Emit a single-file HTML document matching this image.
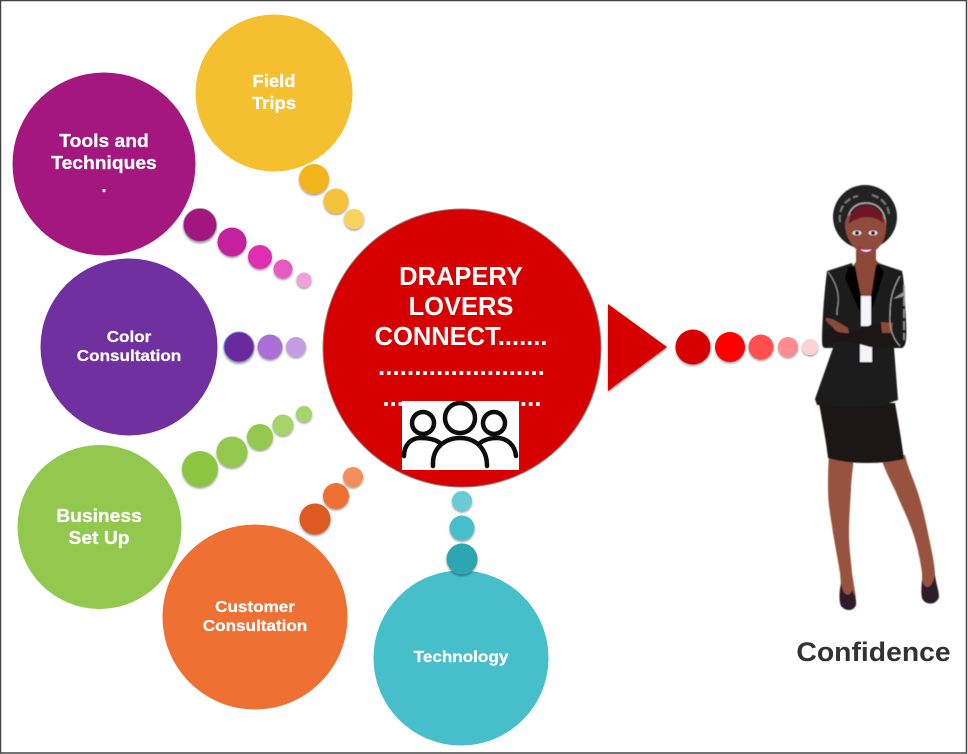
<!DOCTYPE html>
<html><head><meta charset="utf-8"><style>
html,body{margin:0;padding:0;background:#fff}
svg{display:block}
text{font-family:"Liberation Sans",sans-serif;font-weight:bold;fill:#fff;text-anchor:middle}
.a{stroke:#fff;stroke-width:.25px}
</style></head><body>
<svg width="968" height="754" viewBox="0 0 968 754" xmlns="http://www.w3.org/2000/svg">
<defs>
<filter id="s" x="-30%" y="-30%" width="160%" height="170%"><feDropShadow dx="0" dy="1.5" stdDeviation="1" flood-color="#000" flood-opacity=".4"/></filter>
<filter id="b" x="-5%" y="-5%" width="110%" height="110%"><feGaussianBlur stdDeviation=".5"/></filter>
<filter id="t" x="-5%" y="-10%" width="110%" height="120%"><feGaussianBlur stdDeviation=".3"/></filter>
</defs>
<rect width="968" height="754" fill="#fff"/>
<rect x=".5" y=".5" width="966" height="752.5" fill="none" stroke="#444" stroke-width="1.5"/>

<!-- outer bubbles -->
<circle cx="274" cy="93" r="78.5" fill="#f5c02f"/>
<circle cx="104" cy="164" r="91.5" fill="#a3177f"/>
<circle cx="129" cy="347" r="88.5" fill="#7030a0"/>
<circle cx="99.500" cy="527" r="82" fill="#92c84d"/>
<circle cx="255" cy="617" r="92.500" fill="#ee7032"/>
<circle cx="461" cy="658" r="87.500" fill="#47bfcb"/>

<!-- connectors -->
<g filter="url(#s)">
<circle cx="314" cy="179" r="15" fill="#f2b31c"/><circle cx="336" cy="201" r="12.500" fill="#f5c23b"/><circle cx="354" cy="219" r="10" fill="#f9d25f"/>
<circle cx="200" cy="225" r="16.500" fill="#a3177f" stroke="#8c8c8c" stroke-width=".8"/><circle cx="232" cy="242" r="14.500" fill="#c4209c"/><circle cx="260" cy="257" r="12" fill="#e02eb2"/><circle cx="283" cy="269" r="9.500" fill="#e45cc2"/><circle cx="304" cy="280" r="7.500" fill="#eda0dc"/>
<circle cx="239" cy="347" r="15" fill="#6a2c9e" stroke="#6c8ecf" stroke-width="1"/><circle cx="270" cy="347" r="12.500" fill="#ab70d8"/><circle cx="296" cy="347" r="10" fill="#c39ce2"/>
<circle cx="200" cy="469" r="18" fill="#8cc53f"/><circle cx="232" cy="452" r="15.500" fill="#92c84d"/><circle cx="260" cy="437" r="13" fill="#92c84d"/><circle cx="283" cy="425" r="10.500" fill="#a5d56a"/><circle cx="304" cy="414" r="8" fill="#a5d56a"/>
<circle cx="315" cy="519" r="15.500" fill="#dd5a24"/><circle cx="336" cy="496" r="13" fill="#ee7032"/><circle cx="353" cy="477" r="10" fill="#f28d5c"/>
<circle cx="462" cy="559" r="15.500" fill="#2ea5b2"/><circle cx="462" cy="528" r="12.500" fill="#47bfcb"/><circle cx="462" cy="501" r="10" fill="#68cbd6"/>
</g>

<!-- centre -->
<circle cx="462" cy="348" r="139" fill="#d60000" stroke="#9a7a7a" stroke-width="1"/>

<g filter="url(#t)">
<text font-size="25.500" x="461" y="285">DRAPERY</text>
<text font-size="25.500" x="461" y="315">LOVERS</text>
<text font-size="25.500" x="461" y="345">CONNECT.......</text>
<text font-size="25.500" x="461.500" y="375" style="letter-spacing:.18px">.......................</text>
<text font-size="25.500" x="462" y="406" style="letter-spacing:.15px">......................</text>
</g>

<rect x="402" y="401" width="117" height="69" fill="#fff"/>
<g fill="none" stroke="#0d0d0d" stroke-width="4.500" stroke-linecap="round" filter="url(#t)">
<circle cx="460" cy="418" r="15"/>
<circle cx="423" cy="423" r="11"/>
<circle cx="494" cy="423" r="11"/>
<path d="M433 466V463C433 448 445 438 460 438C475 438 487 448 487 466"/>
<path d="M404 456C404 445 411 438 420 438C428 438 435 439 440 443"/>
<path d="M480 443C485 439 491 438 497 438C507 438 515 445 516 456"/>
</g>

<!-- arrow -->
<polygon points="608,304 667,347 608,391" fill="#d60000" filter="url(#s)"/>
<g filter="url(#s)">
<circle cx="693" cy="347" r="17.500" fill="#d60000"/><circle cx="730" cy="347" r="15" fill="#ff0000"/><circle cx="761" cy="347" r="12.500" fill="#ff5050"/><circle cx="788" cy="347" r="10" fill="#ff8a8f"/><circle cx="810" cy="347" r="8" fill="#ffd2d2"/>
</g>

<!-- labels -->
<g filter="url(#t)">
<text class="a" font-size="17.500" transform="translate(274 87) scale(1.06 1)">Field</text>
<text class="a" font-size="17.500" transform="translate(274 109) scale(1.06 1)">Trips</text>
<text class="a" font-size="18" transform="translate(104 147) scale(1.07 1)">Tools and</text>
<text class="a" font-size="18" transform="translate(104 169) scale(1.07 1)">Techniques</text>
<text class="a" font-size="18" x="104" y="192">.</text>
<text class="a" font-size="16" transform="translate(129 342) scale(1.07 1)">Color</text>
<text class="a" font-size="16" transform="translate(129 361) scale(1.07 1)">Consultation</text>
<text class="a" font-size="18" transform="translate(99 522) scale(1.07 1)">Business</text>
<text class="a" font-size="18" transform="translate(99 544) scale(1.07 1)">Set Up</text>
<text class="a" font-size="16" transform="translate(255 612) scale(1.07 1)">Customer</text>
<text class="a" font-size="16" transform="translate(255 631) scale(1.07 1)">Consultation</text>
<text class="a" font-size="16" transform="translate(461 662) scale(1.07 1)">Technology</text>
<text font-size="27" transform="translate(873.500 661) scale(1.05 1)" style="fill:#333">Confidence</text>
</g>

<!-- woman -->
<g filter="url(#b)">
<!-- hair -->
<circle cx="865" cy="217" r="32" fill="#222"/>
<path d="M840 222C838 206 848 198 858 196" fill="none" stroke="#777" stroke-width="2" stroke-dasharray="7 3"/>
<path d="M872 195C882 198 888 205 889 214" fill="none" stroke="#777" stroke-width="2" stroke-dasharray="7 3"/>
<path d="M848 226C846 211 855 203 866 203C878 203 887 212 885 228" fill="none" stroke="#aaa" stroke-width="1.500"/>
<!-- legs -->
<path d="M829 455L854 455C853 470 851 480 851 490C850 505 849 520 849 533C849 548 851 560 852 573L856 598L842 598L840 573C838 560 835 545 833 533C831 518 828 505 828 490C828 478 828 468 829 455Z" fill="#975340"/>
<path d="M880 455L905 455C908 468 913 478 917 490C922 505 925 518 928 533C931 548 934 560 935 573L934 590L922 590L922 573C920 558 917 545 913 533C908 518 901 505 895 490C889 478 884 468 880 455Z" fill="#975340"/>
<path d="M841 583C839 592 839 602 841 606C846 612 854 611 856 605C857 598 853 592 852 590C850 597 843 597 841 583Z" fill="#2f1a2c"/>
<path d="M922 580C921 590 921 597 923 600C928 606 937 604 939 597C939 590 936 585 935 574C933 588 925 592 922 580Z" fill="#2f1a2c"/>
<!-- skirt -->
<path d="M819 403L895 403C899 425 902 445 904 459C885 464 850 465 828 458C826 440 822 420 819 403Z" fill="#1b1819"/>
<!-- neck/chest -->
<path d="M856 250L856 262L851 268L862 312L870 312L882 266L876 260L876 248Z" fill="#8c4a38"/>
<!-- face -->
<path d="M845 226C845 212 854 212 866 212C878 212 886 212 886 228C886 240 878 253 866 254C856 253 846 240 845 226Z" fill="#8f4c3a"/>
<path d="M849 224C849 212 858 205 866 205C875 205 883 212 884 224C876 215 858 215 849 224Z" fill="#6e1225"/>
<ellipse cx="857" cy="233" rx="4.500" ry="2.500" fill="#e5e0ea"/><circle cx="857" cy="233" r="2" fill="#2b2440"/>
<ellipse cx="873" cy="233" rx="4.500" ry="2.500" fill="#e5e0ea"/><circle cx="873" cy="233" r="2" fill="#2b2440"/>
<path d="M859 248C863 250 870 250 873 248C871 253 862 254 859 248Z" fill="#fff" stroke="#a00f7a" stroke-width="1"/>
<!-- jacket -->
<path d="M852 263L827 271C824 295 822 325 822 340C822 348 824 348 826 348L833 348L815 399L817 405L850 407L880 406L898 400L894 348L902 348C906 346 907 340 906 320C905 300 904 278 902 271L878 263L871 296L861 296Z" fill="#1e1b1c"/>
<path d="M848 267L845 278L860 312L861 296L855 266Z" fill="#000"/>
<path d="M878 264L884 272L872 310L871 296L876 265Z" fill="#000"/>
<!-- shirt -->
<rect x="861" y="296" width="10" height="30" fill="#f6f4fb"/>
<rect x="860" y="342" width="12" height="20" fill="#f6f4fb"/>
<!-- arms -->
<path d="M824 330L840 326L858 332L872 324L885 326L902 345L895 348L870 347L845 340L824 345Z" fill="#1b1819"/>
<path d="M826 318C832 318 838 322 848 328L849 333C842 333 836 333 833 327C829 324 825 321 826 318Z" fill="#8c4a38"/>
<path d="M881 322L893 323L891 333L882 333Z" fill="#8c4a38"/>
<!-- highlights -->
<path d="M828 272C838 285 840 298 837 310L837 315" fill="none" stroke="#9a9a9a" stroke-width="1"/>
<path d="M900 276C892 290 890 300 890 315C889 325 892 338 900 346" fill="none" stroke="#aaa" stroke-width="1"/>
<path d="M904 285V340" fill="none" stroke="#999" stroke-width="1.500" stroke-dasharray="9 3"/>
<path d="M893 299L905 291L905 296Z" fill="#999"/>
</g>
</svg>
</body></html>
